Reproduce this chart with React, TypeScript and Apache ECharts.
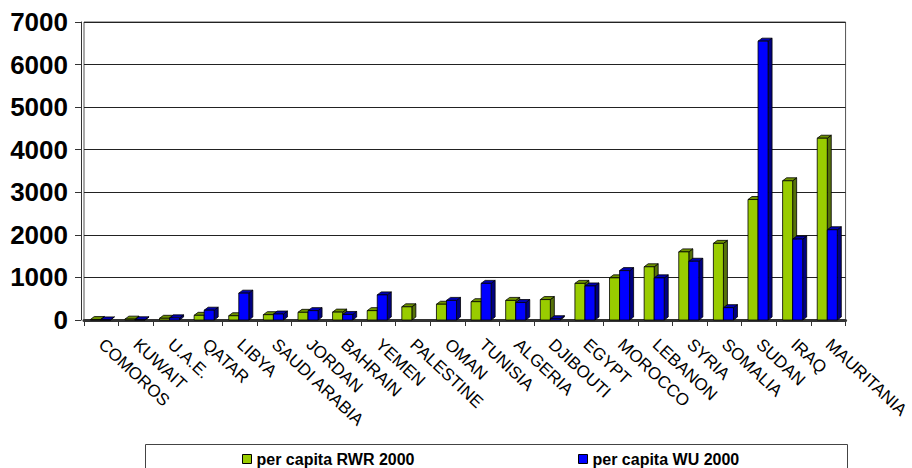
import React, { useEffect, useRef } from 'react';
import * as echarts from 'echarts';

const categories = [
  'COMOROS', 'KUWAIT', 'U.A.E.', 'QATAR', 'LIBYA', 'SAUDI ARABIA', 'JORDAN', 'BAHRAIN',
  'YEMEN', 'PALESTINE', 'OMAN', 'TUNISIA', 'ALGERIA', 'DJIBOUTI', 'EGYPT', 'MOROCCO',
  'LEBANON', 'SYRIA', 'SOMALIA', 'SUDAN', 'IRAQ', 'MAURITANIA',
];
const rwr2000 = [10, 20, 40, 110, 100, 125, 180, 185, 220, 310, 370, 430, 460, 480, 860, 990, 1250, 1600, 1800, 2830, 3270, 4270];
const wu2000 = [2, 5, 50, 230, 630, 140, 220, 130, 590, 0, 460, 860, 410, 30, 800, 1160, 990, 1380, 290, 6550, 1900, 2120];
const yTicks = [0, 1000, 2000, 3000, 4000, 5000, 6000, 7000];
const seriesNames = ['per capita RWR 2000', 'per capita WU 2000'];

const FONT = '"Liberation Sans", Arial, Helvetica, sans-serif';

function make3DBar(index: number, face: string, topC: string, side: string) {
  return (params: any, api: any) => {
    const ci = api.value(0);
    const v = api.value(1);
    if (!(v > 0)) return null;
    const base = api.coord([ci, 0]);
    const top = api.coord([ci, v]);
    const band = api.size([1, 0])[0];
    const bw = band * 0.29;
    const dx = 4;
    const dy = -3;
    const x0 = base[0] - bw + index * bw - 1;
    const yT = top[1];
    const yB = base[1];
    const ls = { stroke: '#000', lineWidth: 0.8 };
    return {
      type: 'group',
      children: [
        {
          type: 'polygon',
          shape: { points: [[x0 + bw, yT], [x0 + bw + dx, yT + dy], [x0 + bw + dx, yB + dy], [x0 + bw, yB]] },
          style: { fill: side, ...ls },
        },
        {
          type: 'polygon',
          shape: { points: [[x0, yT], [x0 + dx, yT + dy], [x0 + bw + dx, yT + dy], [x0 + bw, yT]] },
          style: { fill: topC, ...ls },
        },
        {
          type: 'rect',
          shape: { x: x0, y: yT, width: bw, height: yB - yT },
          style: { fill: face, ...ls },
        },
      ],
    };
  };
}

export default function App() {
  const ref = useRef<HTMLDivElement>(null);
  useEffect(() => {
    if (!ref.current) return;
    const chart = echarts.init(ref.current, undefined, { renderer: 'svg' });
    const legendCommon = {
      top: 451,
      padding: 0,
      itemWidth: 9,
      itemHeight: 9,
      icon: 'rect',
      itemGap: 5,
      itemStyle: { borderColor: '#000', borderWidth: 1 },
      textStyle: { fontFamily: FONT, fontSize: 16, fontWeight: 'bold', color: '#000' },
    };
    chart.setOption({
      animation: false,
      backgroundColor: '#fff',
      textStyle: { fontFamily: FONT },
      grid: {
        left: 84,
        right: 66,
        top: 22,
        bottom: 148,
        show: true,
        borderColor: '#555',
        borderWidth: 1,
        containLabel: false,
      },
      legend: [
        { ...legendCommon, left: 242, data: [seriesNames[0]] },
        { ...legendCommon, left: 578, data: [seriesNames[1]] },
      ],
      graphic: [
        {
          type: 'rect',
          shape: { x: 145.5, y: 444.5, width: 702, height: 40 },
          style: { fill: 'none', stroke: '#444', lineWidth: 1 },
          z: -1,
          silent: true,
        },
      ],
      xAxis: {
        type: 'category',
        data: categories,
        boundaryGap: true,
        axisLine: { show: true, lineStyle: { color: '#333', width: 3 } },
        axisTick: { show: true, length: 6, lineStyle: { color: '#333', width: 1 } },
        axisLabel: {
          interval: 0,
          rotate: -43,
          margin: 22,
          fontFamily: FONT,
          fontSize: 17,
          color: '#000',
        },
        splitLine: { show: false },
      },
      yAxis: {
        type: 'value',
        min: yTicks[0],
        max: yTicks[yTicks.length - 1],
        interval: 1000,
        offset: 3,
        axisLine: { show: true, lineStyle: { color: '#333', width: 1 } },
        axisTick: { show: true, length: 6, lineStyle: { color: '#333' } },
        axisLabel: {
          margin: 13,
          fontFamily: FONT,
          fontSize: 26,
          fontWeight: 'bold',
          color: '#000',
          formatter: (v: number) => String(v),
        },
        splitLine: { show: true, lineStyle: { color: '#222', width: 1 } },
      },
      series: [
        {
          name: seriesNames[0],
          type: 'custom',
          itemStyle: { color: '#99CC00' },
          renderItem: make3DBar(0, '#99CC00', '#6E9200', '#56720A'),
          encode: { x: 0, y: 1 },
          data: rwr2000.map((v, i) => [i, v]),
        },
        {
          name: seriesNames[1],
          type: 'custom',
          itemStyle: { color: '#0000FF' },
          renderItem: make3DBar(1, '#0000FF', '#0000B0', '#000080'),
          encode: { x: 0, y: 1 },
          data: wu2000.map((v, i) => [i, v]),
        },
      ],
    });
    return () => chart.dispose();
  }, []);
  return (
    <div
      ref={ref}
      style={{ position: 'fixed', left: 0, top: 0, width: 912, height: 468, background: '#fff' }}
    />
  );
}
